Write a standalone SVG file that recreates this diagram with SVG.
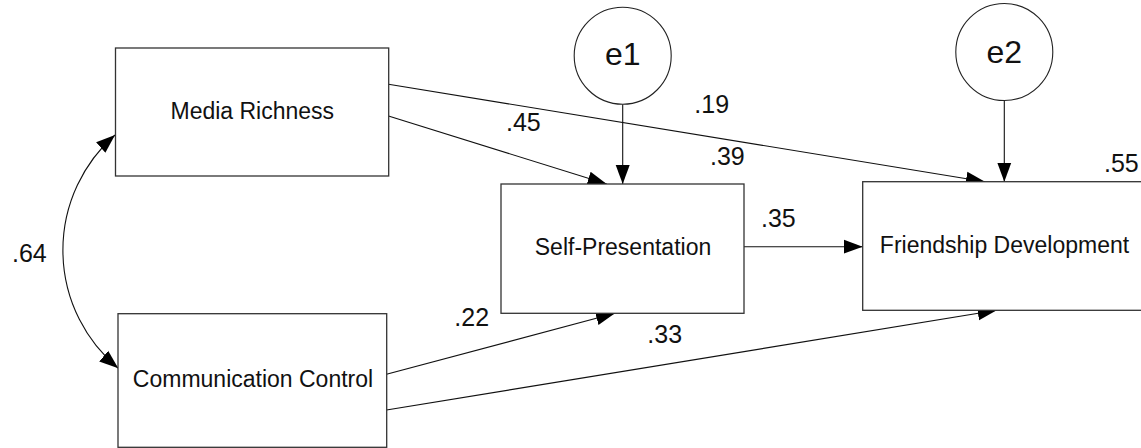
<svg xmlns="http://www.w3.org/2000/svg" width="1141" height="448" viewBox="0 0 1141 448">
<style>
.box{fill:#fff;stroke:#333;stroke-width:1.3}
.circ{fill:#fff;stroke:#222;stroke-width:1.1}
.lbl{font-family:"Liberation Sans",Arial,sans-serif;font-size:23px;fill:#111;text-anchor:middle}
.err{font-family:"Liberation Sans",Arial,sans-serif;font-size:32px;fill:#111;text-anchor:middle}
.num{font-family:"Liberation Sans",Arial,sans-serif;font-size:25px;fill:#111}
.edge{fill:none;stroke:#111;stroke-width:1.1}
</style>
<defs>
<marker id="ah" markerUnits="userSpaceOnUse" markerWidth="20" markerHeight="15" refX="19" refY="7" orient="auto-start-reverse" viewBox="0 0 20 14">
<path d="M0,0 L19,7 L0,14 z" fill="#000"/>
</marker>
</defs>
<rect width="1141" height="448" fill="#fff"/>
<g id="connectors">
<line class="edge" x1="388.5" y1="84.3" x2="985" y2="181.7" marker-end="url(#ah)"/>
<line class="edge" x1="388.5" y1="116" x2="606.7" y2="184" marker-end="url(#ah)"/>
<line class="edge" x1="386.5" y1="374.3" x2="615" y2="313.3" marker-end="url(#ah)"/>
<line class="edge" x1="386.5" y1="410" x2="996.7" y2="310.3" marker-end="url(#ah)"/>
<line class="edge" x1="744" y1="246.7" x2="862.7" y2="246.7" marker-end="url(#ah)"/>
<line class="edge" x1="622.7" y1="104.2" x2="622.7" y2="184" marker-end="url(#ah)"/>
<line class="edge" x1="1004.3" y1="100.5" x2="1004.3" y2="181.7" marker-end="url(#ah)"/>
<path class="edge" d="M115,135 A153.5,153.5 0 0 0 118.3,368.3" marker-start="url(#ah)" marker-end="url(#ah)"/>
</g>
<g id="media-richness">
<rect class="box" x="115.5" y="48" width="273.2" height="128"/>
<text class="lbl" x="252.3" y="119">Media Richness</text>
</g>
<g id="communication-control">
<rect class="box" x="118" y="313.7" width="268.7" height="133.6"/>
<text class="lbl" x="253" y="386.7">Communication Control</text>
</g>
<g id="self-presentation">
<rect class="box" x="501" y="184" width="243" height="129.3"/>
<text class="lbl" x="623" y="255">Self-Presentation</text>
</g>
<g id="friendship-development">
<rect class="box" x="862.7" y="181.7" width="290" height="128.6"/>
<text class="lbl" x="1004.5" y="252.7">Friendship Development</text>
</g>
<g id="e1">
<circle class="circ" cx="622.7" cy="55.7" r="48.5"/>
<text class="err" x="622.7" y="65">e1</text>
</g>
<g id="e2">
<circle class="circ" cx="1004.3" cy="52" r="48.5"/>
<text class="err" x="1004.3" y="63">e2</text>
</g>
<g id="labels">
<text class="num" x="12" y="261.7">.64</text>
<text class="num" x="506" y="130.7">.45</text>
<text class="num" x="694.3" y="113.3">.19</text>
<text class="num" x="710" y="165">.39</text>
<text class="num" x="1104" y="171.7">.55</text>
<text class="num" x="761" y="226.7">.35</text>
<text class="num" x="454.3" y="326">.22</text>
<text class="num" x="647.3" y="343.3">.33</text>
</g>
</svg>
